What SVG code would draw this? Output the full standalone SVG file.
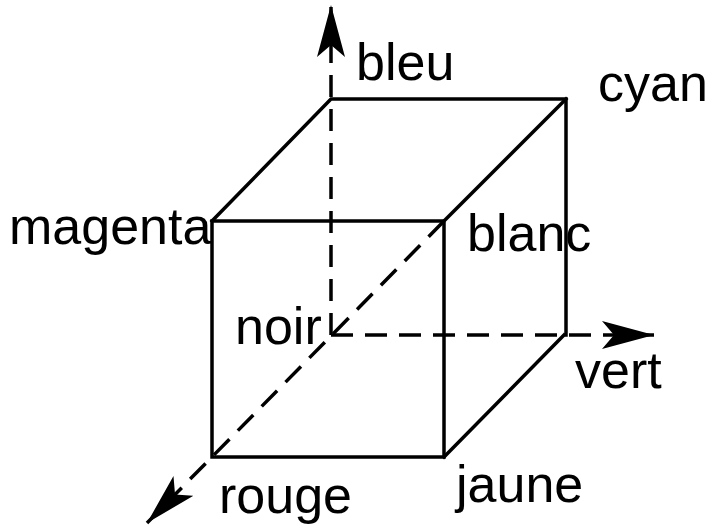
<svg xmlns="http://www.w3.org/2000/svg" width="714" height="525" viewBox="0 0 714 525">
<style>
.edge{fill:none;stroke:#000;stroke-width:3.5;stroke-linecap:square}
.axis{fill:none;stroke:#000;stroke-width:3.5;stroke-dasharray:22 12}
.lbl{font-family:"Liberation Sans",Arial,sans-serif;font-size:52px;fill:#000}
</style>
<defs>
<marker id="ah" viewBox="0 0 52 28" refX="52" refY="14" markerWidth="52" markerHeight="28" markerUnits="userSpaceOnUse" orient="auto">
<path d="M0,0 L52,14 L0,28 L12,14 Z" fill="#000"/>
</marker>
</defs>
<rect width="714" height="525" fill="#fff"/>
<g id="connectors">
<line class="axis" x1="331" y1="335" x2="331" y2="5" marker-end="url(#ah)"/>
<line class="axis" x1="331" y1="335" x2="654" y2="335" marker-end="url(#ah)"/>
<line class="axis" x1="444" y1="221" x2="147" y2="523" marker-end="url(#ah)"/>
</g>
<g id="cube">
<polyline class="edge" points="212,221 331,99 566,99 566,335"/>
<polyline class="edge" points="444,221 566,99"/>
<polyline class="edge" points="444,457 564,335"/>
<rect class="edge" x="212" y="221" width="232" height="236"/>
</g>
<g id="bleu"><text class="lbl" x="356" y="80">bleu</text></g>
<g id="cyan"><text class="lbl" x="598" y="101">cyan</text></g>
<g id="magenta"><text class="lbl" x="9" y="244">magenta</text></g>
<g id="blanc"><text class="lbl" x="467" y="251">blanc</text></g>
<g id="noir"><text class="lbl" x="235" y="344">noir</text></g>
<g id="vert"><text class="lbl" x="575" y="388">vert</text></g>
<g id="rouge"><text class="lbl" x="219" y="513">rouge</text></g>
<g id="jaune"><text class="lbl" x="456" y="502">jaune</text></g>
</svg>
